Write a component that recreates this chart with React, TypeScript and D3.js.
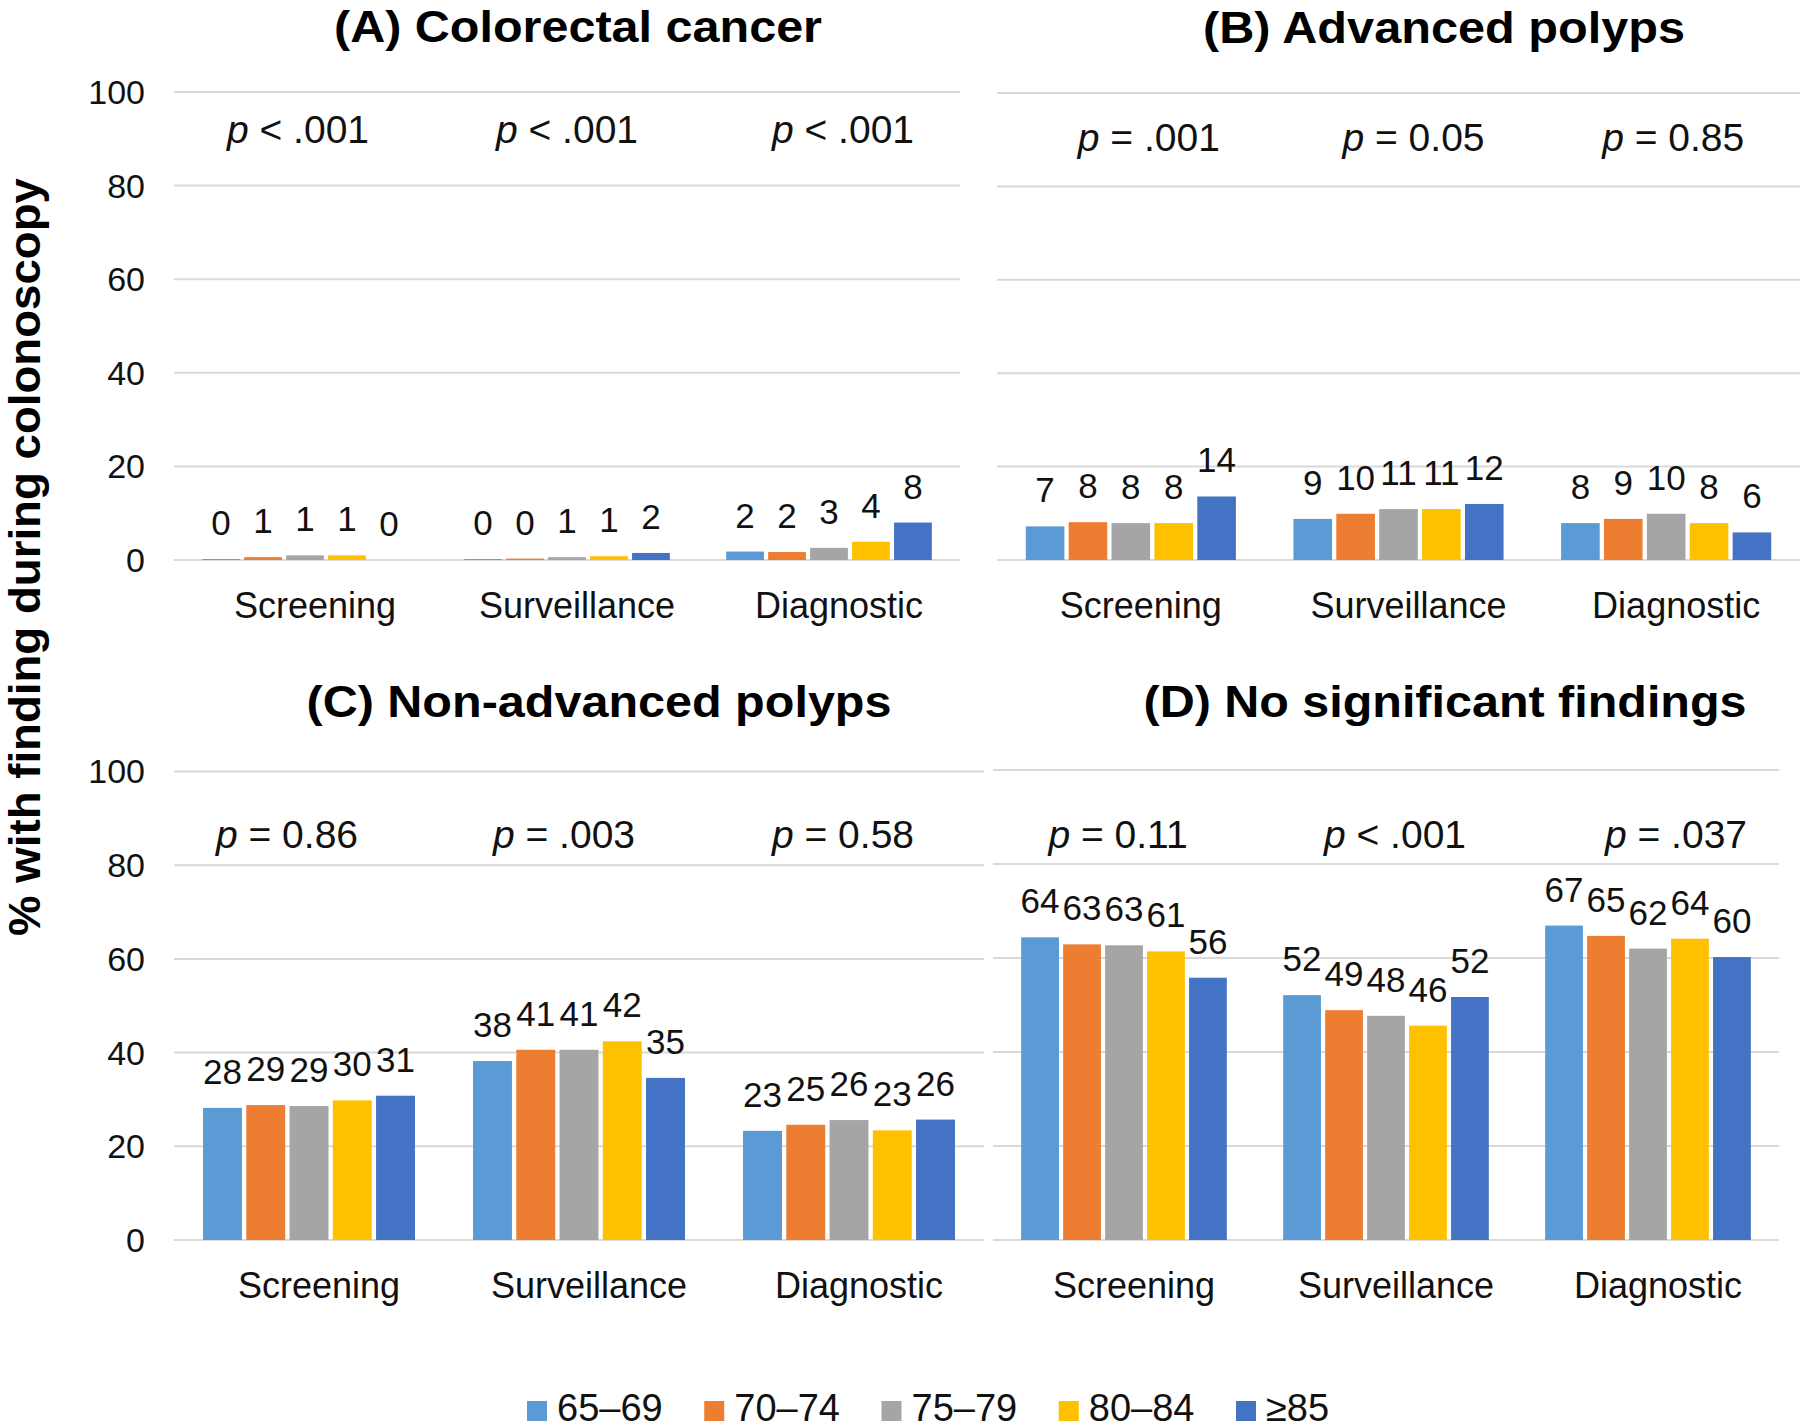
import React from "react";
import * as d3 from "d3";

// ---------- data ----------
const categories = ["Screening", "Surveillance", "Diagnostic"];
const ageGroups = ["65–69", "70–74", "75–79", "80–84", "≥85"];
const ageColors = ["#5B9BD5", "#ED7D31", "#A5A5A5", "#FFC000", "#4472C4"];
const yTicks = [0, 20, 40, 60, 80, 100];

const panelTitles = [
  "(A) Colorectal cancer",
  "(B) Advanced polyps",
  "(C) Non-advanced polyps",
  "(D) No significant findings",
];

// values per category (rows) x age group (columns), % with finding
const crcValues = [
  [0.2, 0.6, 1.0, 1.0, 0.0],
  [0.2, 0.3, 0.6, 0.8, 1.5],
  [1.8, 1.7, 2.6, 3.9, 8.0],
];
const advancedValues = [
  [7.2, 8.1, 7.9, 7.9, 13.6],
  [8.8, 9.9, 10.9, 10.9, 12.0],
  [7.9, 8.8, 9.9, 7.9, 5.9],
];
const nonAdvancedValues = [
  [28.2, 28.8, 28.6, 29.8, 30.8],
  [38.2, 40.6, 40.6, 42.4, 34.6],
  [23.3, 24.6, 25.6, 23.4, 25.7],
];
const noFindingValues = [
  [64.4, 62.9, 62.7, 61.4, 55.8],
  [52.1, 48.9, 47.7, 45.6, 51.7],
  [66.9, 64.7, 62.0, 64.1, 60.2],
];

const crcP = ["< .001", "< .001", "< .001"];
const advancedP = ["= .001", "= 0.05", "= 0.85"];
const nonAdvancedP = ["= 0.86", "= .003", "= 0.58"];
const noFindingP = ["= 0.11", "< .001", "= .037"];

const yAxisTitle = "% with finding during colonoscopy";

// ---------- layout ----------
const W = 1800;
const H = 1428;
const FONT = "'Liberation Sans', Arial, Helvetica, sans-serif";

const panelLayout = [
  { x0: 174, x1: 960, yTop: 92, yBot: 560, ticks: true, titleX: 578, titleY: 42, titleW: 488, pY: 143, pDx: [-7, 0, 14] },
  { x0: 997, x1: 1800, yTop: 93, yBot: 560, ticks: false, titleX: 1444, titleY: 43, titleW: 482, pY: 151, pDx: [18, 15, 7] },
  { x0: 174, x1: 984, yTop: 771.5, yBot: 1240, ticks: true, titleX: 599, titleY: 717, titleW: 585, pY: 848, pDx: [-22, -15, -6] },
  { x0: 993, x1: 1779, yTop: 770, yBot: 1240, ticks: false, titleX: 1445, titleY: 717, titleW: 603, pY: 848, pDx: [-6, 9, 28] },
];

const panelValues = [crcValues, advancedValues, nonAdvancedValues, noFindingValues];
const panelP = [crcP, advancedP, nonAdvancedP, noFindingP];

function Panel({ idx }: { idx: number }) {
  const L = panelLayout[idx];
  const values = panelValues[idx];
  const pvals = panelP[idx];
  const y = d3.scaleLinear().domain([0, 100]).range([L.yBot, L.yTop]);
  const x = d3
    .scaleBand<string>()
    .domain(categories)
    .range([L.x0, L.x1])
    .paddingInner(0.215)
    .paddingOuter(0.1075);
  const xi = d3.scaleBand<string>().domain(ageGroups).range([0, x.bandwidth()]).paddingInner(0.1);
  const color = d3.scaleOrdinal<string, string>().domain(ageGroups).range(ageColors);

  return (
    <g>
      {yTicks.map((t) => (
        <line key={"g" + t} x1={L.x0} x2={L.x1} y1={y(t)} y2={y(t)} stroke="#D9D9D9" strokeWidth={2} />
      ))}
      {L.ticks &&
        yTicks.map((t) => (
          <text
            key={"t" + t}
            x={145}
            y={y(t)}
            dy="0.35em"
            textAnchor="end"
            fontSize={34}
            fontFamily={FONT}
            fill="#111"
          >
            {t}
          </text>
        ))}
      {categories.map((c, ci) => (
        <g key={c} transform={`translate(${x(c)},0)`}>
          {ageGroups.map((a, ai) => {
            const v = values[ci][ai];
            return (
              <rect
                key={a}
                x={xi(a)}
                y={y(v)}
                width={xi.bandwidth()}
                height={Math.max(0, y(0) - y(v))}
                fill={color(a)}
              />
            );
          })}
          {ageGroups.map((a, ai) => {
            const v = values[ci][ai];
            return (
              <text
                key={"l" + a}
                x={(xi(a) as number) + xi.bandwidth() / 2}
                y={y(v) - 24}
                textAnchor="middle"
                fontSize={35}
                fontFamily={FONT}
                fill="#111"
              >
                {Math.round(v)}
              </text>
            );
          })}
        </g>
      ))}
      {categories.map((c) => (
        <text
          key={"c" + c}
          x={(x(c) as number) + x.bandwidth() / 2 + 10}
          y={L.yBot + 58}
          textAnchor="middle"
          fontSize={36}
          fontFamily={FONT}
          fill="#111"
        >
          {c}
        </text>
      ))}
      {categories.map((c, ci) => (
        <text
          key={"p" + c}
          x={(x(c) as number) + x.bandwidth() / 2 + L.pDx[ci]}
          y={L.pY}
          textAnchor="middle"
          fontSize={39}
          fontFamily={FONT}
          fill="#111"
        >
          <tspan fontStyle="italic">p</tspan>
          {" " + pvals[ci]}
        </text>
      ))}
      <text
        x={L.titleX}
        y={L.titleY}
        textAnchor="middle"
        fontSize={45}
        fontWeight="bold"
        fontFamily={FONT}
        fill="#000"
        textLength={L.titleW}
        lengthAdjust="spacingAndGlyphs"
      >
        {panelTitles[idx]}
      </text>
    </g>
  );
}

export default function App() {
  const legendX = d3.scalePoint<string>().domain(ageGroups).range([527, 1236]);
  return (
    <svg
      width={W}
      height={H}
      viewBox={`0 0 ${W} ${H}`}
      style={{ position: "absolute", left: 0, top: 0, background: "#fff" }}
    >
      <rect x={0} y={0} width={W} height={H} fill="#fff" />
      {panelLayout.map((_, i) => (
        <Panel key={i} idx={i} />
      ))}
      <text
        transform="translate(40,557) rotate(-90)"
        textAnchor="middle"
        fontSize={45}
        fontWeight="bold"
        fontFamily={FONT}
        fill="#000"
        textLength={758}
        lengthAdjust="spacingAndGlyphs"
      >
        {yAxisTitle}
      </text>
      {ageGroups.map((a, i) => (
        <g key={a} transform={`translate(${legendX(a)},0)`}>
          <rect x={0} y={1401} width={20} height={20} fill={ageColors[i]} />
          <text x={30} y={1421} fontSize={38} fontFamily={FONT} fill="#111">
            {a}
          </text>
        </g>
      ))}
    </svg>
  );
}
